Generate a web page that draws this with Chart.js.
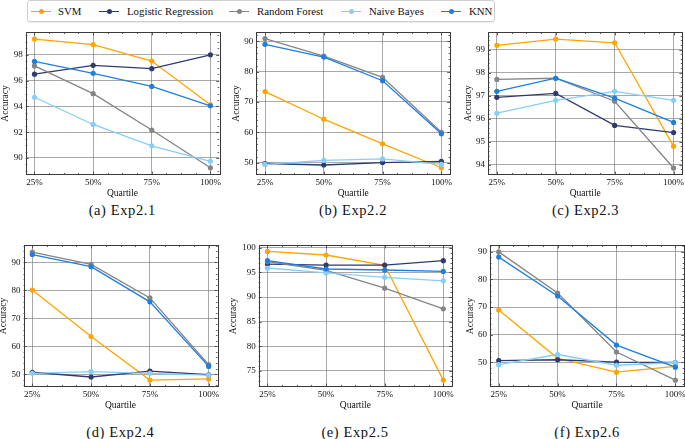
<!DOCTYPE html>
<html>
<head>
<meta charset="utf-8">
<script src="https://cdn.jsdelivr.net/npm/chart.js@4.4.1/dist/chart.umd.min.js"></script>
<style>
  html, body { margin:0; padding:0; background:#fff; width:685px; height:439px; overflow:hidden; position:relative; font-family:"Liberation Serif","Times New Roman","DejaVu Serif",serif; }
  .cv { position:absolute; }
  .cap { position:absolute; font-family:"Liberation Serif","Times New Roman","DejaVu Serif",serif; font-size:14.5px; letter-spacing:0.6px; color:#111; white-space:nowrap; transform:translate(-50%,-50%); }
  #legend { position:absolute; left:27px; top:0px; width:468px; height:22px; border:1px solid #cfcfcf; border-radius:3px; box-sizing:border-box; box-shadow:0 1px 1px rgba(0,0,0,0.08); }
  .li { position:absolute; top:0; height:22px; }
  .ll { position:absolute; top:10px; width:20px; height:1.4px; }
  .ld { position:absolute; top:8px; left:7.5px; width:5px; height:5px; border-radius:50%; }
  .lt { position:absolute; top:3px; font-size:10.8px; line-height:14px; color:#111; white-space:nowrap; font-family:"Liberation Serif","Times New Roman","DejaVu Serif",serif; }
</style>
</head>
<body>
<div id="legend"></div>
<script>
// ---------- data ----------
const quartiles = [25, 50, 75, 100];
const models = ['SVM', 'Logistic Regression', 'Random Forest', 'Naive Bayes', 'KNN'];
const colors = ['#FFA500', '#2E3B6E', '#858585', '#87CEFA', '#1E7FE0'];
const captions = ['(a) Exp2.1', '(b) Exp2.2', '(c) Exp2.3', '(d) Exp2.4', '(e) Exp2.5', '(f) Exp2.6'];

// Exp2.1
const svm21 = [99.22, 98.80, 97.52, 94.13];
const lr21  = [96.50, 97.19, 96.93, 98.00];
const rf21  = [97.14, 94.99, 92.17, 89.24];
const nb21  = [94.71, 92.60, 90.94, 89.74];
const knn21 = [97.49, 96.57, 95.55, 94.05];
// Exp2.2
const svm22 = [73.4, 64.3, 56.2, 48.3];
const lr22  = [49.7, 49.2, 50.0, 50.4];
const rf22  = [90.9, 85.1, 78.1, 60.0];
const nb22  = [49.4, 50.7, 51.2, 49.4];
const knn22 = [89.0, 84.8, 77.0, 59.5];
// Exp2.3
const svm23 = [99.19, 99.46, 99.30, 94.81];
const lr23  = [96.93, 97.10, 95.71, 95.40];
const rf23  = [97.71, 97.76, 96.76, 93.86];
const nb23  = [96.24, 96.80, 97.19, 96.80];
const knn23 = [97.19, 97.76, 96.90, 95.84];
// Exp2.4
const svm24 = [80.1, 63.5, 47.9, 48.3];
const lr24  = [50.7, 49.0, 51.1, 49.8];
const rf24  = [93.7, 89.3, 77.3, 53.4];
const nb24  = [50.3, 50.9, 50.3, 49.7];
const knn24 = [92.8, 88.5, 75.9, 52.8];
// Exp2.5
const svm25 = [99.28, 98.55, 96.45, 73.1];
const lr25  = [96.7, 96.5, 96.5, 97.4];
const rf25  = [97.2, 95.4, 91.8, 87.6];
const nb25  = [95.9, 94.9, 94.0, 93.3];
const knn25 = [97.4, 95.7, 95.5, 95.2];
// Exp2.6
const svm26 = [68.9, 51.4, 46.4, 48.5];
const lr26  = [50.6, 50.9, 50.0, 49.9];
const rf26  = [90.0, 75.1, 53.7, 43.5];
const nb26  = [49.1, 52.8, 48.9, 49.9];
const knn26 = [88.1, 74.0, 56.2, 48.2];

const panelSeries = [
  [svm21, lr21, rf21, nb21, knn21],
  [svm22, lr22, rf22, nb22, knn22],
  [svm23, lr23, rf23, nb23, knn23],
  [svm24, lr24, rf24, nb24, knn24],
  [svm25, lr25, rf25, nb25, knn25],
  [svm26, lr26, rf26, nb26, knn26]
];
// y-axis ranges and tick steps
const yMin  = [88.72, 46.07, 93.58, 45.6, 71.8, 41.2];
const yMax  = [99.74, 92.93, 99.75, 96.1, 100.5, 92.35];
const yStep = [2, 10, 1, 10, 5, 10];

// ---------- layout (plot boxes) ----------
const boxes = [
  {l:25.5, t:30, r:219, b:174, lab:5.5},
  {l:256, t:30, r:450, b:174, lab:236.5},
  {l:488.3, t:30, r:682.7, b:174.5, lab:469},
  {l:23.3, t:243.3, r:217.3, b:386.7, lab:3.5},
  {l:258.3, t:243.3, r:451.7, b:386.7, lab:233.3},
  {l:490, t:243.3, r:684.3, b:386.7, lab:470.8}
];
const capY = [210, 210, 210, 432, 432, 432];

// ---------- legend ----------
const legendPos = [[3, 30], [71, 99], [201, 229], [313, 341], [413, 441]];
const leg = document.getElementById('legend');
models.forEach((m, i) => {
  const it = document.createElement('div');
  it.className = 'li';
  it.style.left = legendPos[i][0] + 'px';
  it.innerHTML = '<div class="ll" style="left:0;background:' + colors[i] + '"></div>' +
    '<div class="ld" style="background:' + colors[i] + '"></div>' +
    '<div class="lt" style="left:' + (legendPos[i][1] - legendPos[i][0]) + 'px">' + m + '</div>';
  leg.appendChild(it);
});

// ---------- frame + inward ticks plugin ----------
function ndivs(step) {
  const e = Math.pow(10, Math.floor(Math.log10(step)));
  const s = Math.round(step / e * 100) / 100;
  return (s === 1 || s === 5 || s === 10) ? 5 : 4;
}
const framePlugin = {
  id: 'frame',
  afterDraw(chart) {
    const {ctx, chartArea: a, scales} = chart;
    ctx.save();
    ctx.strokeStyle = '#3a3a3a';
    ctx.lineWidth = 1;
    ctx.strokeRect(Math.round(a.left) + 0.5, Math.round(a.top) + 0.5, Math.round(a.right - a.left), Math.round(a.bottom - a.top));
    ctx.lineWidth = 0.8;
    const drawAxis = (sc, horiz, step) => {
      const minor = step / ndivs(step);
      const k0 = Math.ceil(sc.min / minor - 1e-9), k1 = Math.floor(sc.max / minor + 1e-9);
      for (let k = k0; k <= k1; k++) {
        const v = k * minor;
        const isMajor = Math.abs(v / step - Math.round(v / step)) < 1e-6;
        const len = isMajor ? 3 : 1.6;
        const p = Math.round(sc.getPixelForValue(v)) + 0.5;
        ctx.beginPath();
        if (horiz) {
          ctx.moveTo(p, a.bottom); ctx.lineTo(p, a.bottom - len);
          ctx.moveTo(p, a.top); ctx.lineTo(p, a.top + len);
        } else {
          ctx.moveTo(a.left, p); ctx.lineTo(a.left + len, p);
          ctx.moveTo(a.right, p); ctx.lineTo(a.right - len, p);
        }
        ctx.stroke();
      }
    };
    drawAxis(scales.x, true, 25);
    drawAxis(scales.y, false, chart.options.scales.y.ticks.stepSize);
    ctx.restore();
  }
};

const PAD_TOP = 6, PAD_RIGHT = 10, X_AXIS_H = 24.5;
const FAMILY = "'Liberation Serif', 'Times New Roman', 'DejaVu Serif', serif";
const tickFont = {family: FAMILY, size: 9};
const titleFont = {family: FAMILY, size: 9.5};

boxes.forEach((bx, p) => {
  const left = bx.lab - titleFont.size * 1.2 / 2;
  const axisW = bx.l - left;
  const cv = document.createElement('canvas');
  cv.className = 'cv';
  const w = Math.round(bx.r - left + PAD_RIGHT);
  const h = Math.round(bx.b - bx.t + PAD_TOP + X_AXIS_H);
  cv.width = w; cv.height = h;
  cv.style.left = left + 'px';
  cv.style.top = (bx.t - PAD_TOP) + 'px';
  cv.style.width = w + 'px'; cv.style.height = h + 'px';
  document.body.appendChild(cv);

  const cap = document.createElement('div');
  cap.className = 'cap';
  cap.textContent = captions[p];
  cap.style.left = ((bx.l + bx.r) / 2) + 'px';
  cap.style.top = capY[p] + 'px';
  document.body.appendChild(cap);

  const datasets = models.map((m, i) => ({
    label: m,
    data: quartiles.map((q, j) => ({x: q, y: panelSeries[p][i][j]})),
    borderColor: colors[i],
    backgroundColor: colors[i],
    borderWidth: 1.3,
    pointRadius: 2.6,
    pointBorderWidth: 0,
    pointHoverRadius: 2.6,
    order: models.length - i,
    tension: 0
  }));

  new Chart(cv, {
    type: 'line',
    data: {datasets},
    plugins: [framePlugin],
    options: {
      responsive: false,
      animation: false,
      devicePixelRatio: 1,
      layout: {padding: {top: PAD_TOP, right: w - (bx.r - left), bottom: 0, left: 0}},
      plugins: {legend: {display: false}, tooltip: {enabled: false}},
      scales: {
        x: {
          type: 'linear',
          min: 21.25, max: 103.75,
          border: {display: false},
          grid: {drawTicks: false, color: 'rgba(110,110,110,0.75)', lineWidth: 0.8, borderDash: [1.2, 1.6]},
          ticks: {stepSize: 25, includeBounds: false, padding: 3, color: '#111', font: tickFont, maxRotation: 0,
                  callback: v => v + '%'},
          title: {display: true, text: 'Quartile', color: '#111', font: titleFont, padding: {top: 0, bottom: 0}},
          afterFit: s => { s.height = X_AXIS_H; }
        },
        y: {
          type: 'linear',
          min: yMin[p], max: yMax[p],
          border: {display: false},
          grid: {drawTicks: false, color: 'rgba(110,110,110,0.75)', lineWidth: 0.8, borderDash: [1.2, 1.6]},
          ticks: {stepSize: yStep[p], includeBounds: false, padding: 3, color: '#111', font: tickFont},
          title: {display: true, text: 'Accuracy', color: '#111', font: titleFont, padding: {top: 0, bottom: 0}},
          afterFit: s => { s.width = axisW; }
        }
      }
    }
  });
});
</script>
</body>
</html>
